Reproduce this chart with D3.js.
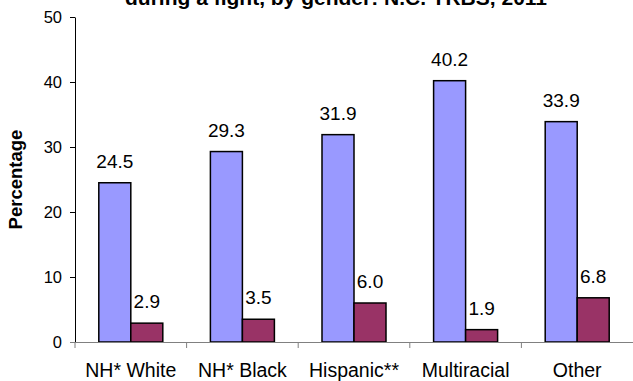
<!DOCTYPE html>
<html>
<head>
<meta charset="utf-8">
<script src="https://cdn.jsdelivr.net/npm/d3@7"></script>
<style>
  html, body { margin: 0; padding: 0; background: #fff; }
  svg { display: block; font-family: Arial, "Liberation Sans", sans-serif; }
</style>
</head>
<body>
<svg id="chart" width="633" height="381"></svg>
<script>
// Race/ethnicity groups and percentages for each gender series
const categories = ["NH* White", "NH* Black", "Hispanic**", "Multiracial", "Other"];
const seriesNames = ["Male", "Female"];
const maleValues = [24.5, 29.3, 31.9, 40.2, 33.9];
const femaleValues = [2.9, 3.5, 6.0, 1.9, 6.8];
const yTicks = [0, 10, 20, 30, 40, 50];
const titleText = "during a fight, by gender: N.C. YRBS, 2011";
const yTitle = "Percentage";
const seriesColors = ["#9999FF", "#993366"];

const rows = categories.map((c, i) => ({ cat: c, vals: [maleValues[i], femaleValues[i]] }));

const svg = d3.select("#chart");
const margin = { left: 75, right: 0, top: 17, bottom: 39 };
const W = 633, H = 381;

const x = d3.scaleBand().domain(categories).range([margin.left, W]).paddingInner(0).paddingOuter(0);
const y = d3.scaleLinear().domain([0, 50]).range([H - margin.bottom, margin.top]);
const barW = 32;
const inner = d3.scaleBand().domain(seriesNames).range([-barW, barW]);

// Title (runs off the top edge)
svg.append("text")
  .attr("x", 336).attr("y", 4.5)
  .attr("text-anchor", "middle")
  .attr("font-weight", "bold").attr("font-size", 21)
  .text(titleText);

// Y axis
const yAxis = svg.append("g")
  .attr("transform", `translate(${margin.left},0)`)
  .call(d3.axisLeft(y).tickValues(yTicks).tickSize(5).tickPadding(8).tickSizeOuter(0));
yAxis.select(".domain").attr("stroke", "#000");
yAxis.selectAll(".tick line").attr("stroke", "#000");
yAxis.selectAll(".tick text").attr("font-size", 16.5).attr("font-family", "Arial, 'Liberation Sans', sans-serif").attr("fill", "#000");

svg.append("text")
  .attr("transform", `translate(22,${(y(0) + y(50)) / 2}) rotate(-90)`)
  .attr("text-anchor", "middle")
  .attr("font-weight", "bold").attr("font-size", 18.5)
  .text(yTitle);

// Bars
const groups = svg.append("g").selectAll("g").data(rows).join("g")
  .attr("transform", d => `translate(${x(d.cat) + x.bandwidth() / 2},0)`);

groups.selectAll("rect").data(d => d.vals.map((v, k) => ({ v, k }))).join("rect")
  .attr("x", d => inner(seriesNames[d.k]))
  .attr("width", inner.bandwidth())
  .attr("y", d => y(d.v))
  .attr("height", d => y(0) - y(d.v))
  .attr("fill", d => seriesColors[d.k])
  .attr("stroke", "#000").attr("stroke-width", 1.5);

groups.selectAll("text.val").data(d => d.vals.map((v, k) => ({ v, k }))).join("text")
  .attr("class", "val")
  .attr("x", d => inner(seriesNames[d.k]) + inner.bandwidth() / 2)
  .attr("y", d => y(d.v) - 15)
  .attr("text-anchor", "middle")
  .attr("font-size", 19)
  .text(d => d.v.toFixed(1));

// X axis
const xAxis = svg.append("g")
  .attr("transform", `translate(0,${y(0)})`)
  .call(d3.axisBottom(x).tickSize(0).tickPadding(21).tickSizeOuter(0));
xAxis.select(".domain").attr("stroke", "#808080").attr("d", `M${margin.left - 5},0.5H${W}`);
xAxis.selectAll(".tick text").attr("font-size", 19.5).attr("font-family", "Arial, 'Liberation Sans', sans-serif").attr("fill", "#000").attr("dy", "0.71em");
// Category separators
xAxis.selectAll("line.sep").data(categories.map(c => x(c))).join("line")
  .attr("class", "sep")
  .attr("x1", d => d).attr("x2", d => d)
  .attr("y1", 0).attr("y2", 6)
  .attr("stroke", "#808080");
</script>
</body>
</html>
